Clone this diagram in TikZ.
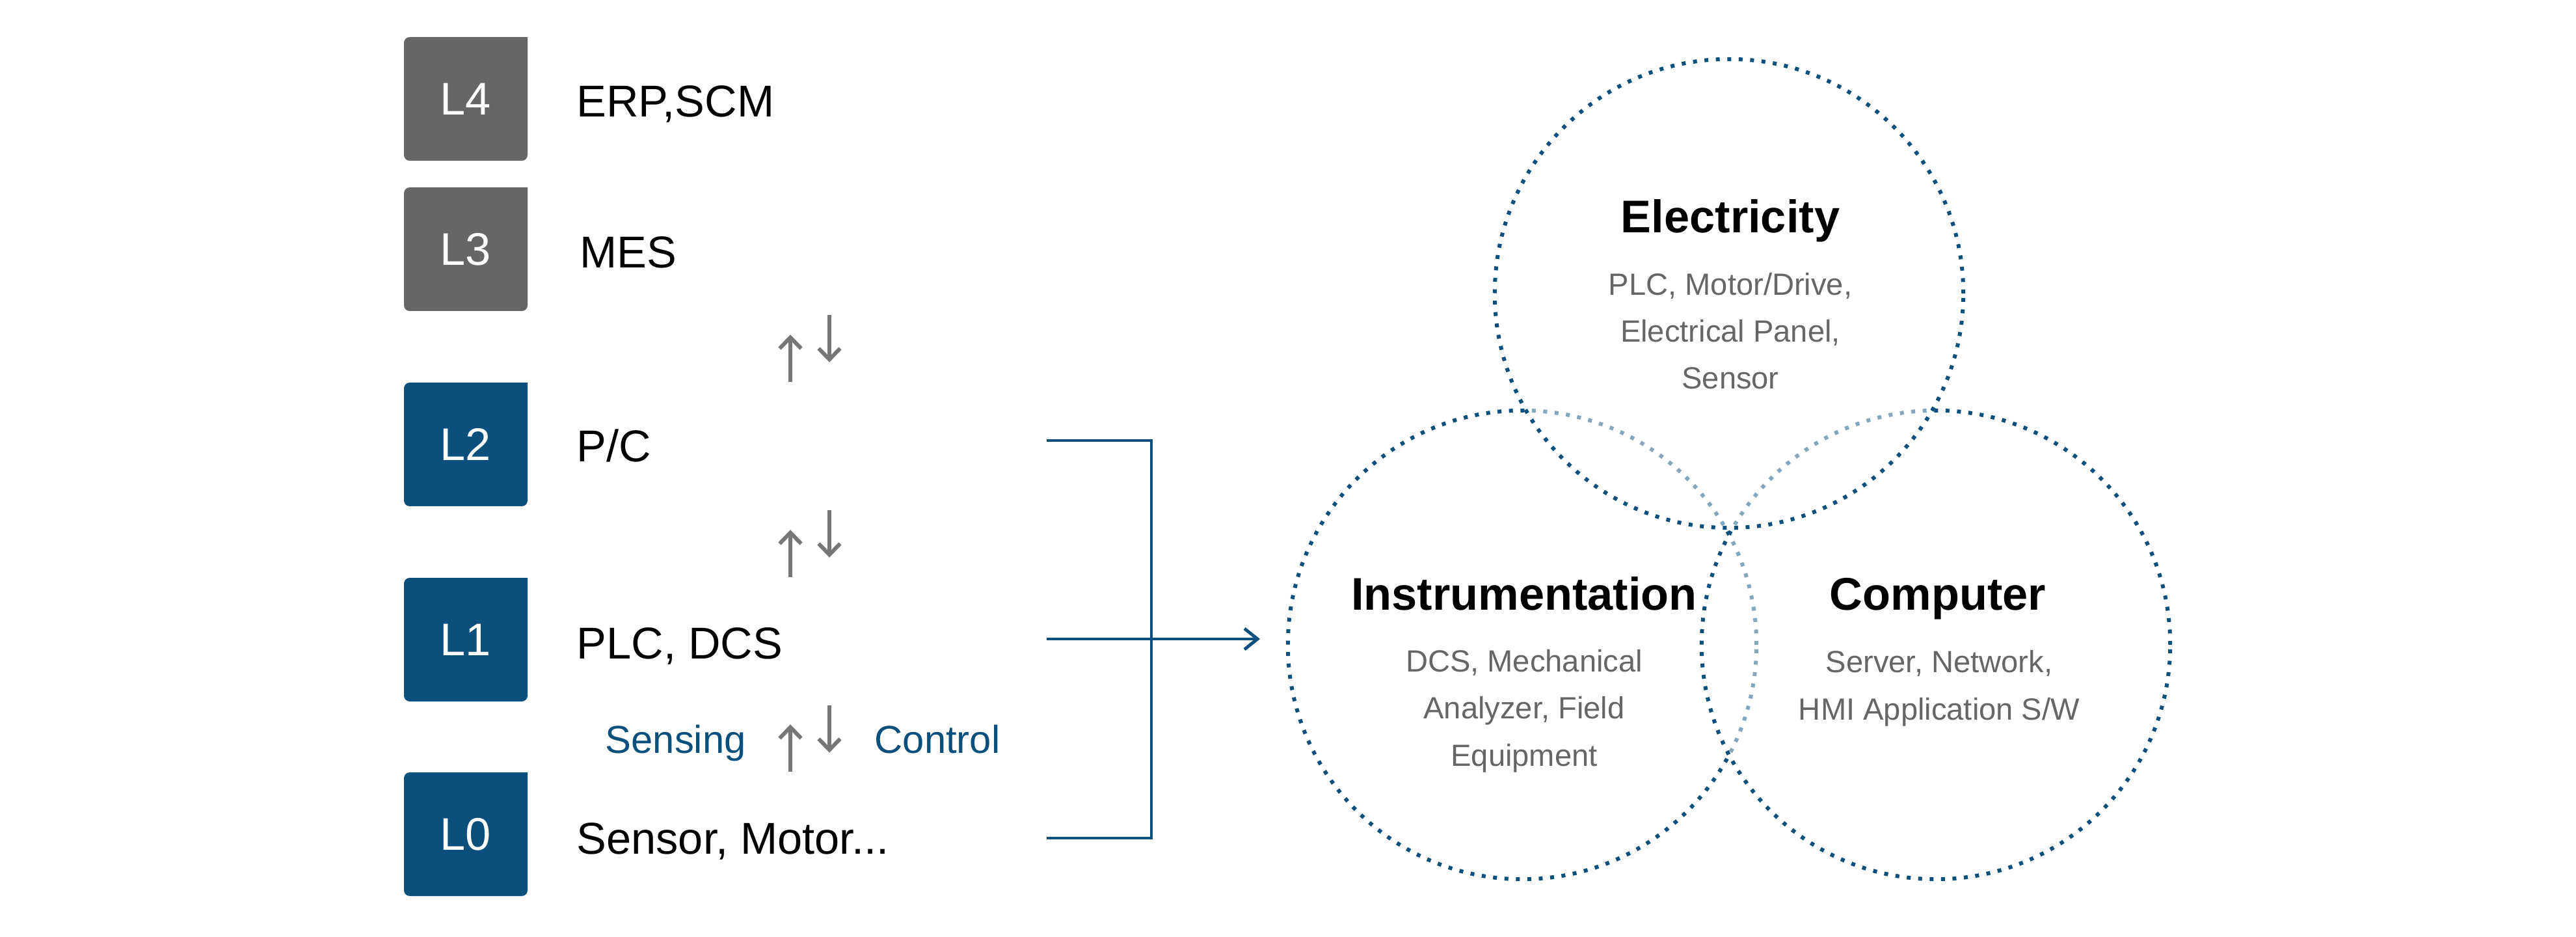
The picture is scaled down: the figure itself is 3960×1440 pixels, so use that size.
\documentclass[tikz,border=0pt]{standalone}
\usepackage{fontspec}
\setmainfont{Liberation Sans}
\usetikzlibrary{arrows.meta}

\definecolor{navy}{HTML}{0B4F7C}
\definecolor{slate}{HTML}{666666}
\definecolor{arrowgray}{HTML}{777777}

\tikzset{
  lvl/.style={minimum size=1.9cm, inner sep=0, text=white, font=\fontsize{20}{24}\selectfont},
  lbl/.style={anchor=base west, inner sep=0, font=\fontsize{19.5}{24}\selectfont},
  sc/.style={anchor=base west, inner sep=0, text=navy, font=\fontsize{17}{20}\selectfont},
  updown/.style={draw=arrowgray, line width=1.7pt, -{Straight Barb[length=0.17cm,width=0.33cm]}},
  link/.style={draw=navy, line width=1.4pt},
  ring/.style={circle, minimum size=7.2cm, draw=navy, line width=1.7pt,
    dash pattern=on 1.7pt off 3.3pt, fill=white, fill opacity=0.5},
  ttl/.style={anchor=base, inner sep=0, font=\bfseries\fontsize{20}{24}\selectfont},
  dtl/.style={anchor=base, inner sep=0, align=center, text=slate, font=\fontsize{13.4}{20.5}\selectfont}
}

\begin{document}
\begin{tikzpicture}[x=0.01cm, y=-0.01cm]
    \useasboundingbox (0,0) rectangle (3960,1440);
    % level boxes
    \foreach \n/\y/\c in {4/152/slate, 3/383/slate, 2/683/navy, 1/983/navy, 0/1282/navy}{
      \fill[\c] (811,\y-95) [rounded corners=2.5pt] -- (621,\y-95) -- (621,\y+95)
        -- (811,\y+95) [sharp corners] -- cycle;
      \node[lvl] (L\n) at (716,\y) {L\n};
    }
    \node[lbl] (t4) at (886,180) {ERP,SCM};
    \node[lbl] (t3) at (891,412) {MES};
    \node[lbl] (t2) at (886,710) {P/C};
    \node[lbl] (t1) at (886,1012) {PLC, DCS};
    \node[lbl] (t0) at (886,1312) {Sensor, Motor...};

    % up / down arrows
    \coordinate (upx) at (1215,0);
    \coordinate (dnx) at (1275,0);
    \foreach \a/\b in {L3/L2, L2/L1, L1/L0}{
      \draw[updown] (\b.north -| upx) -- ++(0,-73);
      \draw[updown] (\a.south -| dnx) ++(0,5) -- ++(0,73);
    }
    \node[sc] (sense) at (930,1157) {Sensing};
    \node[sc] (ctrl) at (1344,1157) {Control};

    % bracket
    \coordinate (b2) at (1609,677);
    \coordinate (b1) at (1609,982);
    \coordinate (b0) at (1609,1288);
    \coordinate (jn) at (1770,982);
    \coordinate (tip) at (1937,982);
    \draw[link] (b2) -| (jn) |- (b0);
    \draw[link, -{Straight Barb[length=0.2cm,width=0.32cm]}] (b1) -- (tip);

    % circles
    \node[ring] (inst) at (2340,991) {};
    \node[ring] (comp) at (2976,991) {};
    \node[ring] (elec) at (2658,451) {};

    % base of a multi-line node is its last line
    \node[ttl] (elecT) at (2660,358) {Electricity};
    \node[dtl] (elecD) at (2660,598) {PLC, Motor/Drive,\\Electrical Panel,\\Sensor};
    \node[ttl] (instT) at (2343,937) {Instrumentation};
    \node[dtl] (instD) at (2343,1177) {DCS, Mechanical\\Analyzer, Field\\Equipment};
    \node[ttl] (compT) at (2979,937) {Computer};
    \node[dtl] (compD) at (2981,1106) {Server, Network,\\HMI Application S/W};
\end{tikzpicture}
\end{document}
